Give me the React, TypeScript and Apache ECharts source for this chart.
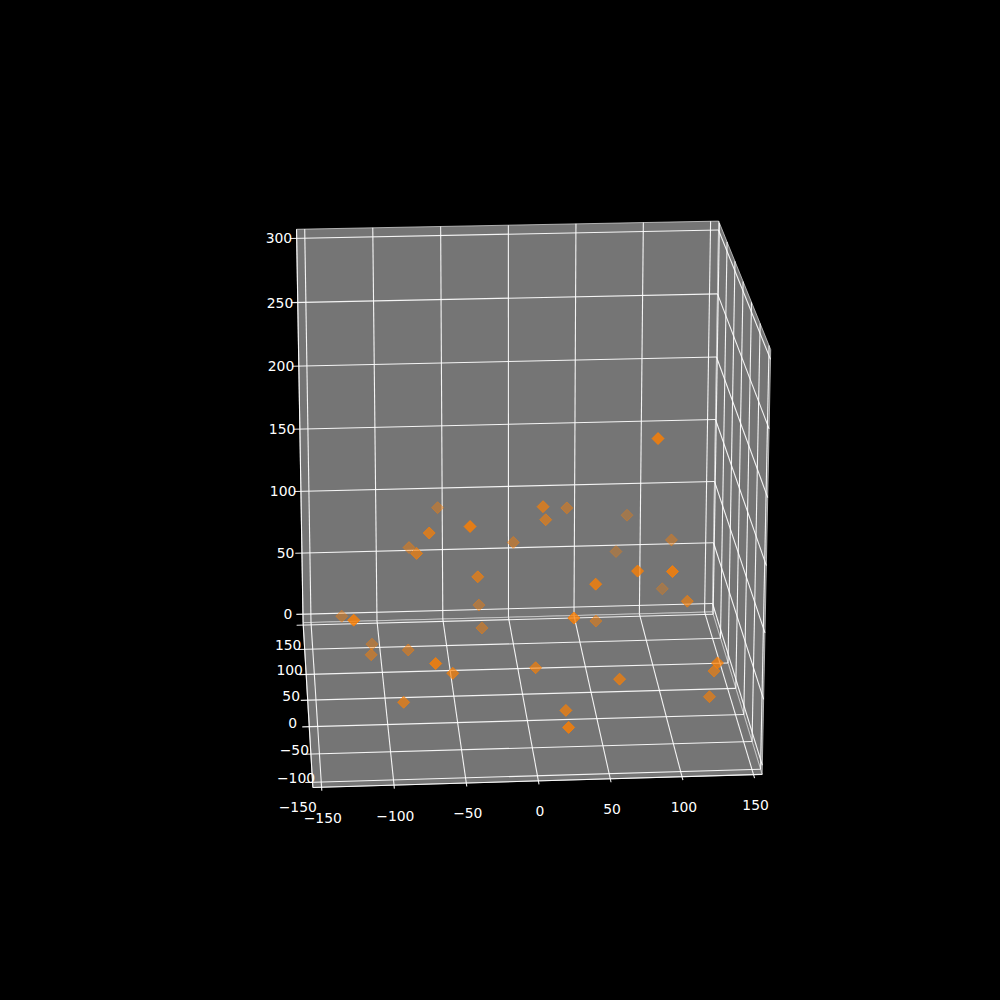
import React, { useEffect, useRef } from "react";
import * as echarts from "echarts";

const xLim = [-156, 156];
const yLim = [-109, 205];
const zLim = [-7, 307];
const xTicks = [-150, -100, -50, 0, 50, 100, 150];
const yGrid = [-100, -50, 0, 50, 100, 150, 200];
const yLabels = [-150, -100, -50, 0, 50, 100, 150];
const zTicks = [0, 50, 100, 150, 200, 250, 300];
const xs = [-129, -126, -107, -109, -82, -70, -55, -89, -28, -27, -58, -71, -46, -80, -79, -4, -36, 10, 35, 15, 85, 114, 77, 71, 93, 42, 112, 115, 27, 55, 5, 63, 25, 22, 130, 135, 132, 82];
const ys = [112, -95, 112, 71, 71, -95, -33, -12, 112, 91, 112, -33, -95, 91, -12, 91, -12, -12, 91, 29, 154, 112, 154, -74, -95, -74, 154, 9, -74, 71, -12, -33, -33, -95, -54, 9, 9, -95];
const zs = [34, 112, 11, 19, 22, 78, 45, 15, 40, 30, 118, 152, 179, 95, 129, 97, 110, 162, 123, 137, 93, 88, 64, 135, 142, 126, 33, 79, 101, 41, 39, 37, 14, 27, 56, 24, 4, 240];

const PANE = "#757575";
const ORANGE = [255, 128, 0];
const FONT = "'DejaVu Sans', sans-serif";

function solve(A: number[][], b: number[]) {
  const n = b.length;
  const M = A.map((r, i) => [...r, b[i]]);
  for (let i = 0; i < n; i++) {
    let piv = i;
    for (let k = i + 1; k < n; k++) if (Math.abs(M[k][i]) > Math.abs(M[piv][i])) piv = k;
    [M[i], M[piv]] = [M[piv], M[i]];
    for (let k = 0; k < n; k++) if (k !== i) {
      const f = M[k][i] / M[i][i];
      for (let j = i; j <= n; j++) M[k][j] -= f * M[i][j];
    }
  }
  return M.map((r, i) => r[n] / r[i]);
}

const [x0, x1] = xLim, [y0, y1] = yLim, [z0, z1] = zLim;
// Camera calibration: where the corners of the 3D box fall on the page.
const control = [
  [x0, y0, z0, 313, 788], [x1, y0, z0, 762, 774], [x1, y1, z0, 712.5, 612.5], [x0, y1, z0, 303, 622],
  [x0, y1, z1, 296.5, 229.5], [x1, y1, z1, 718.7, 221], [x1, y0, z1, 770.7, 349.5],
];
function fit() {
  const rows: number[][] = [], rhs: number[] = [];
  for (const [X, Y, Z, u0, v0] of control) {
    const x = X / 100, y = Y / 100, z = Z / 100, u = u0 / 500, v = v0 / 500;
    rows.push([x, y, z, 1, 0, 0, 0, 0, -u * x, -u * y, -u * z]); rhs.push(u);
    rows.push([0, 0, 0, 0, x, y, z, 1, -v * x, -v * y, -v * z]); rhs.push(v);
  }
  const A = Array.from({ length: 11 }, (_, i) => Array.from({ length: 11 }, (_, j) => rows.reduce((s, r) => s + r[i] * r[j], 0)));
  const b = Array.from({ length: 11 }, (_, i) => rows.reduce((s, r, k) => s + r[i] * rhs[k], 0));
  return solve(A, b);
}
const P = fit();
function project(X: number, Y: number, Z: number) {
  const x = X / 100, y = Y / 100, z = Z / 100;
  const w = P[8] * x + P[9] * y + P[10] * z + 1;
  return [500 * (P[0] * x + P[1] * y + P[2] * z + P[3]) / w, 500 * (P[4] * x + P[5] * y + P[6] * z + P[7]) / w];
}
const minus = (n: number) => String(n).replace("-", "\u2212");

export default function App() {
  const ref = useRef<HTMLDivElement>(null);
  useEffect(() => {
    document.body.style.margin = "0";
    document.body.style.background = "#000";
    const c = echarts.init(ref.current!, null, { renderer: "svg" });

    const panes = [
      [[x0, y1, z0], [x1, y1, z0], [x1, y1, z1], [x0, y1, z1]],
      [[x1, y0, z0], [x1, y1, z0], [x1, y1, z1], [x1, y0, z1]],
      [[x0, y0, z0], [x1, y0, z0], [x1, y1, z0], [x0, y1, z0]],
    ].map((q) => q.map((p) => project(p[0], p[1], p[2])));

    const seg = (list: number[][][]) => list.map(([a, b]) => [...project(a[0], a[1], a[2]), ...project(b[0], b[1], b[2])]);
    const grid: number[][][] = [];
    for (const t of xTicks) { grid.push([[t, y0 - 6, z0], [t, y1, z0]], [[t, y1, z0], [t, y1, z1]]); }
    for (const t of yGrid) { grid.push([[x0 - 5, t, z0], [x1, t, z0]], [[x1, t, z0], [x1, t, z1]]); }
    for (const t of zTicks) { grid.push([[x0 - 5, y1, t], [x1, y1, t]], [[x1, y1, t], [x1, y0, t]]); }
    const axes: number[][][] = [
      [[x0, y0, z0], [x1, y0, z0]],
      [[x0, y0, z0], [x0, y1, z0]],
      [[x0, y1, z0], [x0, y1, z1]],
    ];

    const labels: any[] = [];
    for (const t of xTicks) { const p = project(t, y0 - 6, z0); labels.push([p[0] + 1, p[1] + 27, minus(t)]); }
    for (const t of yLabels) { const p = project(x0, t, z0); labels.push([p[0] - 16.5, p[1] - 4, minus(t)]); }
    for (const t of zTicks) { const p = project(x0, y1, t); const s = String(t); labels.push([p[0] - 15 - (s.length - 1) * 1.4, p[1], s]); }

    const lineSeries = (data: number[][], stroke: string, lineWidth: number) => ({
      type: "custom", coordinateSystem: "cartesian2d", silent: true, data, encode: { x: 0, y: 1 },
      renderItem: (_: any, api: any) => {
        const a = api.coord([api.value(0), api.value(1)]), b = api.coord([api.value(2), api.value(3)]);
        return { type: "line", shape: { x1: a[0], y1: a[1], x2: b[0], y2: b[1] }, style: { stroke, lineWidth } };
      },
    });

    const order = xs.map((_, i) => i).sort((a, b) => ys[b] - ys[a]);
    const points = order.map((i) => {
      const a = 0.3 + 0.7 * (195 - ys[i]) / 290;
      const fill = `rgba(${ORANGE.join(",")},${a})`;
      return { value: project(xs[i], ys[i], zs[i]), itemStyle: { color: fill, borderColor: fill, borderWidth: 1 } };
    });

    c.setOption({
      animation: false,
      backgroundColor: "#000",
      grid: { left: 0, top: 0, width: 1000, height: 1000 },
      xAxis: { type: "value", min: 0, max: 1000, show: false },
      yAxis: { type: "value", min: 0, max: 1000, inverse: true, show: false },
      series: [
        {
          type: "custom", coordinateSystem: "cartesian2d", silent: true,
          data: panes.map((q) => q.flat()), encode: { x: 0, y: 1 },
          renderItem: (_: any, api: any) => {
            const pts = [0, 2, 4, 6].map((k) => api.coord([api.value(k), api.value(k + 1)]));
            return { type: "polygon", shape: { points: pts }, style: { fill: PANE, stroke: "rgba(215,215,215,0.75)", lineWidth: 1 } };
          },
        },
        lineSeries(seg(grid), "rgba(255,255,255,0.92)", 1.1),
        lineSeries(seg(axes), "rgba(255,255,255,0.9)", 1.1),
        {
          type: "scatter", symbol: "diamond", symbolSize: 12, silent: true, data: points, z: 5,
        },
        {
          type: "custom", coordinateSystem: "cartesian2d", silent: true, data: labels, encode: { x: 0, y: 1 },
          dimensions: ["x", "y", { name: "t", type: "ordinal" }],
          renderItem: (p: any, api: any) => {
            const a = api.coord([api.value(0), api.value(1)]);
            return { type: "text", x: a[0], y: a[1], style: { text: labels[p.dataIndex][2], fill: "#fff", font: `13.9px ${FONT}`, textAlign: "center", textVerticalAlign: "middle" } };
          },
        },
      ],
    });
    return () => c.dispose();
  }, []);
  return <div ref={ref} style={{ width: 1000, height: 1000 }} />;
}
